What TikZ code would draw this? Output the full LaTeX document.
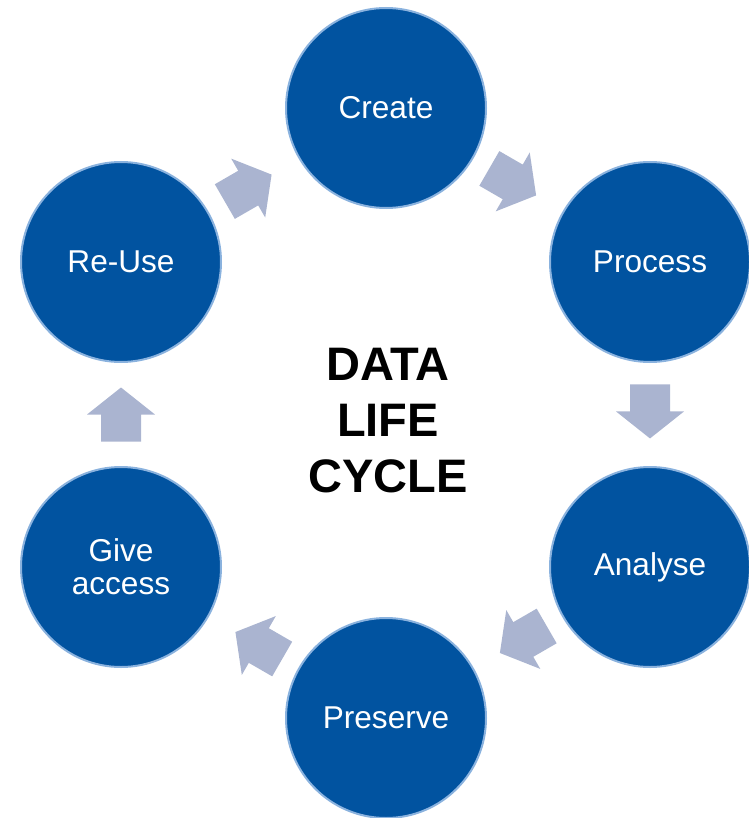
\documentclass[tikz,border=0pt]{standalone}
\usepackage{fontspec}
\setmainfont{Liberation Sans}
\usetikzlibrary{calc}
\definecolor{dblue}{RGB}{1,83,160}
\definecolor{lblue}{RGB}{138,178,222}
\definecolor{arrowfill}{RGB}{170,180,208}
\begin{document}
\begin{tikzpicture}[x=1pt,y=-1pt,
  stage/.style={circle, fill=dblue, draw=lblue, line width=2pt, minimum size=200pt,
    inner sep=0pt, text=white, font=\fontsize{31.6}{33}\selectfont, align=center},
  flow/.pic={\fill[arrowfill] (-27,-20) -- (0,-20) -- (0,-34) -- (27,0) -- (0,34) -- (0,20) -- (-27,20) -- cycle;}]
\useasboundingbox (0,0) rectangle (748,818);
\node[stage] (create) at (386,108) {Create};
\node[stage] (process) at (650,262) {Process};
\node[stage] (analyse) at (650,567) {Analyse};
\node[stage] (preserve) at (386,718) {Preserve};
\node[stage] (give) at (121,567) {Give\\access};
\node[stage] (reuse) at (121,262) {Re-Use};
\node[font=\bfseries\fontsize{47}{56}\selectfont, align=center] (title) at (388,421) {DATA\\LIFE\\CYCLE};
\path ($(create)!0.48!(process)$) pic[rotate=-30] {flow};
\path ($(process)!0.49!(analyse)$) pic[rotate=-90] {flow};
\path ($(analyse)!0.48!(preserve)$) pic[rotate=-150] {flow};
\path ($(preserve)!0.48!(give)$) pic[rotate=150] {flow};
\path ($(give)!0.5!(reuse)$) pic[rotate=90] {flow};
\path ($(reuse)!0.48!(create)$) pic[rotate=30] {flow};
\end{tikzpicture}
\end{document}
